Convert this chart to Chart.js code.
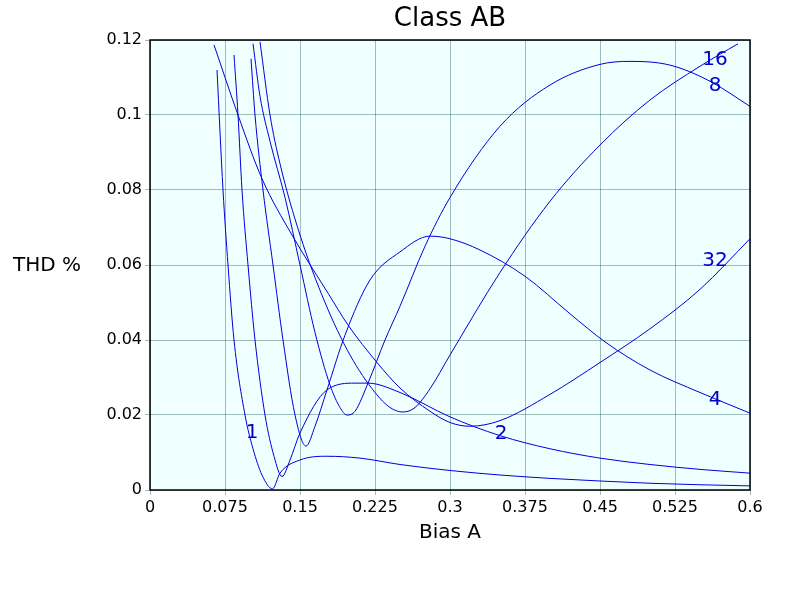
<!DOCTYPE html><html><head><script src="https://cdn.jsdelivr.net/npm/chart.js@4"></script>
<style>body{margin:0;background:#fff}#w{width:800px;height:600px}</style></head><body><div id="w"><canvas id="c"></canvas></div>
<script>
const xTicks=[0,0.075,0.15,0.225,0.3,0.375,0.45,0.525,0.6];
const yTicks=[0,0.02,0.04,0.06,0.08,0.1,0.12];
const c1=[[0.067,0.112],[0.073,0.08],[0.078,0.06],[0.084,0.04],[0.095,0.02],[0.103,0.011],[0.112,0.004],[0.1225,0.0003],[0.13,0.0045],[0.15,0.008],[0.177,0.009],[0.21,0.0085],[0.25,0.0068],[0.3,0.0052],[0.35,0.004],[0.4,0.0031],[0.45,0.0024],[0.5,0.0018],[0.55,0.0014],[0.6,0.0011]];
const c2=[[0.084,0.116],[0.088,0.1],[0.092,0.08],[0.098,0.06],[0.105,0.04],[0.115,0.02],[0.124,0.009],[0.132,0.0036],[0.14,0.008],[0.15,0.0152],[0.177,0.0267],[0.205,0.0285],[0.218,0.0285],[0.25,0.026],[0.3,0.0195],[0.35,0.0145],[0.4,0.011],[0.45,0.0085],[0.5,0.0068],[0.55,0.0055],[0.6,0.0045]];
const c4=[[0.101,0.115],[0.105,0.1],[0.113,0.08],[0.123,0.06],[0.133,0.04],[0.145,0.02],[0.156,0.0117],[0.165,0.017],[0.177,0.0267],[0.195,0.0413],[0.22,0.056],[0.25,0.0635],[0.28,0.0677],[0.3,0.067],[0.33,0.064],[0.375,0.057],[0.42,0.047],[0.455,0.0395],[0.5,0.032],[0.55,0.026],[0.6,0.0205]];
const c8=[[0.103,0.119],[0.11,0.105],[0.12,0.093],[0.135,0.078],[0.15,0.06],[0.165,0.042],[0.18,0.028],[0.19,0.022],[0.197,0.02],[0.205,0.021],[0.218,0.0285],[0.235,0.04],[0.25,0.049],[0.275,0.065],[0.3,0.078],[0.35,0.097],[0.4,0.108],[0.45,0.1135],[0.48,0.1143],[0.52,0.1133],[0.56,0.109],[0.6,0.1023]];
const c16=[[0.11,0.1195],[0.12,0.1],[0.13,0.087],[0.15,0.068],[0.175,0.05],[0.2,0.036],[0.225,0.026],[0.24,0.022],[0.253,0.0208],[0.265,0.022],[0.28,0.027],[0.3,0.036],[0.35,0.058],[0.4,0.077],[0.45,0.092],[0.5,0.104],[0.55,0.113],[0.588,0.119]];
const c32=[[0.064,0.1187],[0.088,0.1],[0.112,0.083],[0.142,0.068],[0.178,0.0525],[0.198,0.044],[0.227,0.034],[0.25,0.0272],[0.28,0.021],[0.3,0.018],[0.32,0.017],[0.35,0.0185],[0.4,0.0255],[0.45,0.034],[0.5,0.043],[0.55,0.0535],[0.6,0.067]];
const labels=[["1",0.102,0.0152],["2",0.351,0.015],["4",0.565,0.024],["32",0.565,0.061],["8",0.565,0.1077],["16",0.565,0.1147]];
const series=[c1,c2,c4,c8,c16,c32];
const plug={id:'p',beforeDraw(ch){const a=ch.chartArea,x=ch.ctx;x.save();x.fillStyle='#f0ffff';x.fillRect(a.left,a.top,a.right-a.left,a.bottom-a.top);x.restore();},
afterDraw(ch){const x=ch.ctx,a=ch.chartArea,sx=ch.scales.x,sy=ch.scales.y;x.save();
x.strokeStyle='#000';x.lineWidth=1.5;x.strokeRect(a.left,a.top,a.right-a.left,a.bottom-a.top);
x.fillStyle='#0000cc';x.font='20px "DejaVu Sans"';x.textAlign='center';x.textBaseline='middle';
labels.forEach(l=>x.fillText(l[0],sx.getPixelForValue(l[1]),sy.getPixelForValue(l[2])));
x.fillStyle='#000';x.font='26px "DejaVu Sans"';x.fillText('Class AB',450,19);
x.font='20px "DejaVu Sans"';x.fillText('Bias A',450,533);x.fillText('THD %',47,266);x.restore();}};
new Chart(document.getElementById('c'),{type:'line',data:{datasets:series.map(s=>({data:s.map(p=>({x:p[0],y:p[1]})),borderColor:'#0000dd',borderWidth:1,pointRadius:0,tension:0.4,cubicInterpolationMode:'monotone',fill:false}))},
options:{animation:false,responsive:true,maintainAspectRatio:false,layout:{padding:{top:40,right:50,left:0,bottom:0}},
plugins:{legend:{display:false},tooltip:{enabled:false}},
scales:{x:{type:'linear',min:0,max:0.6,afterBuildTicks(s){s.ticks=xTicks.map(v=>({value:v}))},afterFit(s){s.height=110},grid:{color:'rgba(0,60,60,0.35)',drawTicks:true,tickLength:5},border:{display:false},ticks:{color:'#000',font:{size:16,family:'DejaVu Sans'},maxRotation:0,callback:v=>String(+v.toFixed(3))}},
y:{min:0,max:0.12,afterBuildTicks(s){s.ticks=yTicks.map(v=>({value:v}))},afterFit(s){s.width=150},grid:{color:'rgba(0,60,60,0.35)',tickLength:5},border:{display:false},ticks:{color:'#000',font:{size:16,family:'DejaVu Sans'},callback:v=>String(+v.toFixed(2))}}}},plugins:[plug]});
</script></body></html>
